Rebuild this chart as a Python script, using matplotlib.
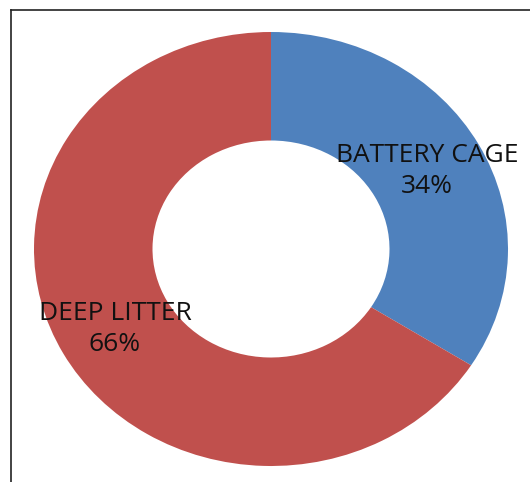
import matplotlib
matplotlib.use("Agg")
import matplotlib.pyplot as plt
from matplotlib.lines import Line2D

categories = ["BATTERY CAGE", "DEEP LITTER"]
values = [34, 66]
colors = ["#4F81BD", "#C0504D"]

W, H = 530, 482
fig = plt.figure(figsize=(W / 100, H / 100), dpi=100)
ax = fig.add_axes([0, 0, 1, 1])

cx, cy = 271, 249  # center in px (from top)
rx, ry = 237, 217
ax.pie(values, colors=colors, startangle=90, counterclock=False,
       radius=1.0, wedgeprops=dict(width=0.5, edgecolor="none"))
ax.set_aspect("auto")
ax.set_xlim(-cx / rx, (W - cx) / rx)
ax.set_ylim(-(H - cy) / ry, cy / ry)
ax.axis("off")

# frame lines (top and left)
fig.add_artist(Line2D([11 / W, 1], [1 - 10 / H, 1 - 10 / H], color="#222222", lw=1.2))
fig.add_artist(Line2D([11 / W, 11 / W], [0, 1 - 10 / H], color="#222222", lw=1.2))

font = ["Open Sans", "DejaVu Sans"]
labels_pos = [(427, 171), (115, 329)]
for cat, v, (px, py) in zip(categories, values, labels_pos):
    fig.text(px / W, 1 - py / H, f"{cat}\n{v}%", ha="center", va="center",
             fontsize=19, family=font, color="#111111", linespacing=1.35)

fig.savefig("out.png", dpi=100)
